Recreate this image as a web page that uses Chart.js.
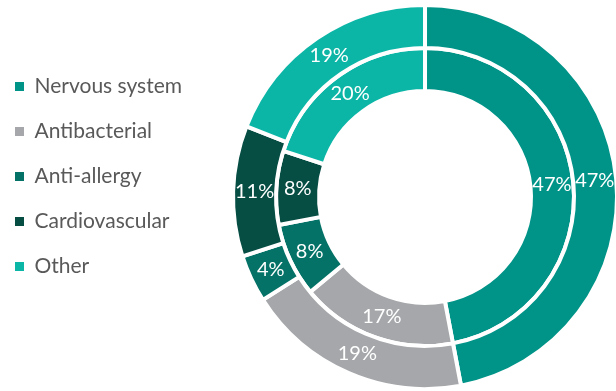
<!DOCTYPE html>
<html>
<head>
<meta charset="utf-8">
<script src="https://cdn.jsdelivr.net/npm/chart.js@4.4.1/dist/chart.umd.min.js"></script>
<style>
  html, body { margin: 0; padding: 0; background: #fff; overflow: hidden; }
  /* a bit wider than the window so the doughnut sits where the original has it */
  #wrap { width: 658px; height: 391px; }
</style>
</head>
<body>
<div id="wrap"><canvas id="therapyChart"></canvas></div>
<script>
const categories = ['Nervous system', 'Antibacterial', 'Anti-allergy', 'Cardiovascular', 'Other'];
const outerShares = [47, 19, 4, 11, 19];
const innerShares = [47, 17, 8, 8, 20];
const sliceColors = ['#009488', '#a5a7aa', '#047267', '#064d44', '#0cb6a7'];

// white % labels in the middle of each arc
const pctLabels = {
    id: 'pctLabels',
    afterDatasetsDraw(chart) {
        const ctx = chart.ctx;
        ctx.save();
        ctx.font = '20px Lato';
        ctx.fillStyle = '#ffffff';
        ctx.textAlign = 'center';
        ctx.textBaseline = 'middle';
        chart.data.datasets.forEach((ds, i) => {
            chart.getDatasetMeta(i).data.forEach((arc, j) => {
                const pos = arc.tooltipPosition(true);
                ctx.fillText(ds.data[j] + '%', pos.x, pos.y);
            });
        });
        ctx.restore();
    }
};

const ctx = document.getElementById('therapyChart').getContext('2d');
new Chart(ctx, {
    type: 'doughnut',
    data: {
        labels: categories,
        datasets: [{
            data: outerShares,
            backgroundColor: sliceColors,
            borderColor: '#ffffff',
            borderWidth: 4
        }, {
            data: innerShares,
            backgroundColor: sliceColors,
            borderColor: '#ffffff',
            borderWidth: 4
        }]
    },
    options: {
        responsive: true,
        maintainAspectRatio: false,
        animation: false,
        cutout: '55.2%',
        layout: { padding: { left: -9, right: 0, top: 3, bottom: 0 } },
        plugins: {
            tooltip: { enabled: false },
            legend: {
                position: 'left',
                align: 'start',
                title: { display: true, text: '', padding: { top: 37, bottom: 0 }, font: { size: 10 } },
                labels: {
                    boxWidth: 9,
                    boxHeight: 9,
                    padding: 24,
                    color: '#595959',
                    font: { family: 'Lato', size: 21 },
                    generateLabels(chart) {
                        // no white border on the legend squares
                        return Chart.overrides.doughnut.plugins.legend.labels.generateLabels(chart)
                            .map(item => Object.assign(item, { lineWidth: 0 }));
                    }
                }
            }
        }
    },
    plugins: [pctLabels]
});
</script>
</body>
</html>
